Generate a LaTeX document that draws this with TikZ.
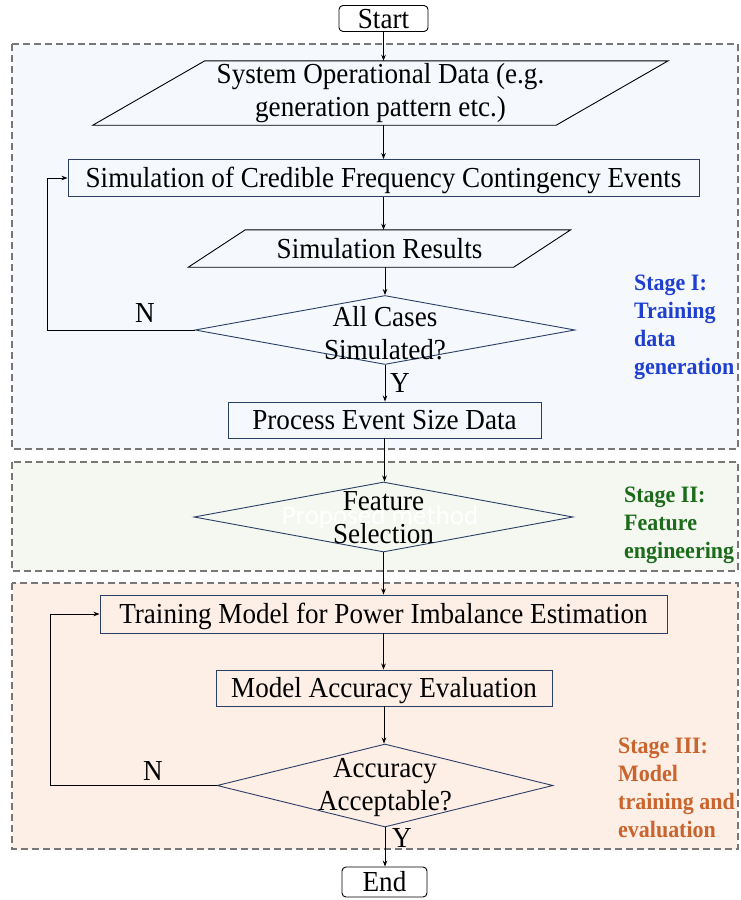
\documentclass[tikz,border=0pt]{standalone}
\usepackage{fontspec}
\setmainfont{Liberation Serif}[FakeStretch=0.935]
\newfontfamily\marksans{Carlito}
\usetikzlibrary{shapes.geometric,arrows.meta}

\definecolor{stageAfill}{HTML}{F5F9FE}
\definecolor{stageBfill}{HTML}{F4F8F1}
\definecolor{stageCfill}{HTML}{FDEEE6}
\definecolor{edgegray}{HTML}{777777}
\definecolor{boxline}{HTML}{2B3F66}
\definecolor{stageAtext}{HTML}{1F3FD0}
\definecolor{stageBtext}{HTML}{1B6B1B}
\definecolor{stageCtext}{HTML}{C8642C}

\tikzset{
  txt/.style={font=\fontsize{29}{33}\selectfont, inner sep=0pt, align=center},
  oneline/.style={txt, text height=19pt, text depth=0pt},
  term/.style={oneline, draw=black, line width=0.9pt, rounded corners=4pt},
  procbox/.style={oneline, draw=boxline, line width=0.9pt},
  dia/.style={diamond, draw=boxline, line width=0.9pt, inner sep=0pt},
  paraline/.style={draw=black, line width=0.9pt, line join=miter},
  flow/.style={-{Stealth[length=6pt,width=4.5pt]}, line width=0.8pt},
  stagebox/.style={draw=edgegray, dash pattern=on 7pt off 4pt, line width=1.1pt},
  stagelabel/.style={font=\fontsize{23.5}{28}\selectfont\bfseries, align=left, anchor=west, inner sep=0pt},
}

\begin{document}
\begin{tikzpicture}[x=1pt,y=-1pt]
\useasboundingbox (0,0) rectangle (740,900);

% stage backgrounds
\draw[stagebox, fill=stageAfill] (12,44) rectangle (738,449);
\draw[stagebox, fill=stageBfill] (12,462) rectangle (738,571);
\draw[stagebox, fill=stageCfill] (12,583) rectangle (738,849);

% terminals
\node[term, minimum width=89pt, minimum height=26pt] (start) at (383.5,18.5) {Start};
\node[term, minimum width=85pt, minimum height=30pt] (finish) at (384.5,882) {End};

% stage I
\node[txt, minimum width=463pt, minimum height=64pt] (sysdata) at (380.5,93)
  {System Operational Data (e.g.\\generation pattern etc.)};
\draw[paraline] ([xshift=56pt]sysdata.north west) -- ([xshift=56pt]sysdata.north east)
  -- ([xshift=-56pt]sysdata.south east) -- ([xshift=-56pt]sysdata.south west) -- cycle;

\node[procbox, minimum width=631pt, minimum height=37pt] (simfreq) at (383.5,178)
  {Simulation of Credible Frequency Contingency Events};

\node[oneline, minimum width=325pt, minimum height=37pt] (simres) at (379.5,248.5) {Simulation Results};
\draw[paraline] ([xshift=28.5pt]simres.north west) -- ([xshift=28.5pt]simres.north east)
  -- ([xshift=-28.5pt]simres.south east) -- ([xshift=-28.5pt]simres.south west) -- cycle;

\node[dia, minimum width=380pt, minimum height=69pt] (allcases) at (385,330) {};
\node[txt] (allcasestxt) at (385,333) {All Cases\\Simulated?};

\node[procbox, minimum width=313pt, minimum height=36pt] (procevt) at (384.5,420) {Process Event Size Data};

% stage II
\node[dia, minimum width=379pt, minimum height=70pt] (feature) at (383.5,517) {};
\node[inner sep=0pt, text=white, font=\marksans\fontsize{27}{33}\selectfont] (propmeth) at (380,517) {Proposed method};
\node[txt] (featuretxt) at (383.5,518) {Feature\\Selection};

% stage III
\node[procbox, minimum width=567pt, minimum height=38pt] (trainmodel) at (383.5,614)
  {Training Model for Power Imbalance Estimation};
\node[procbox, minimum width=336pt, minimum height=36pt] (modelacc) at (384,688) {Model Accuracy Evaluation};
\node[dia, minimum width=336pt, minimum height=83pt] (accept) at (385,785.5) {};
\node[txt] (accepttxt) at (385,788) {Accuracy\\Acceptable?};

% branch labels
\node[txt] (noA) at (145,313) {N};
\node[txt] (yesA) at (400,383) {Y};
\node[txt] (noB) at (153,771) {N};
\node[txt] (yesB) at (402,838) {Y};

% stage captions
\node[stagelabel, text=stageAtext] (stageA) at (634,327) {Stage I:\\Training\\data\\generation};
\node[stagelabel, text=stageBtext] (stageB) at (624,525) {Stage II:\\Feature\\engineering};
\node[stagelabel, text=stageCtext] (stageC) at (618,788) {Stage III:\\Model\\training and\\evaluation};

% main flow
\draw[flow] (start.south) -- (start.south |- sysdata.north);
\draw[flow] (simfreq.north |- sysdata.south) -- (simfreq.north);
\draw[flow] (simfreq.south) -- (simfreq.south |- simres.north);
\draw[flow] (allcases.north |- simres.south) -- (allcases.north);
\draw[flow] (allcases.south) -- (allcases.south |- procevt.north);
\draw[flow] (procevt.south) -- (procevt.south |- feature.north);
\draw[flow] (feature.south) -- (feature.south |- trainmodel.north);
\draw[flow] (trainmodel.south) -- (trainmodel.south |- modelacc.north);
\draw[flow] (modelacc.south) -- (modelacc.south |- accept.north);
\draw[flow] (accept.south) -- (accept.south |- finish.north);

% retry loops
\coordinate (loopA) at (47,0);
\coordinate (loopB) at (50,0);
\draw[flow] (allcases.west) -- (allcases.west -| loopA) |- (simfreq.west);
\draw[flow] (accept.west) -- (accept.west -| loopB) |- (trainmodel.west);
\end{tikzpicture}
\end{document}
